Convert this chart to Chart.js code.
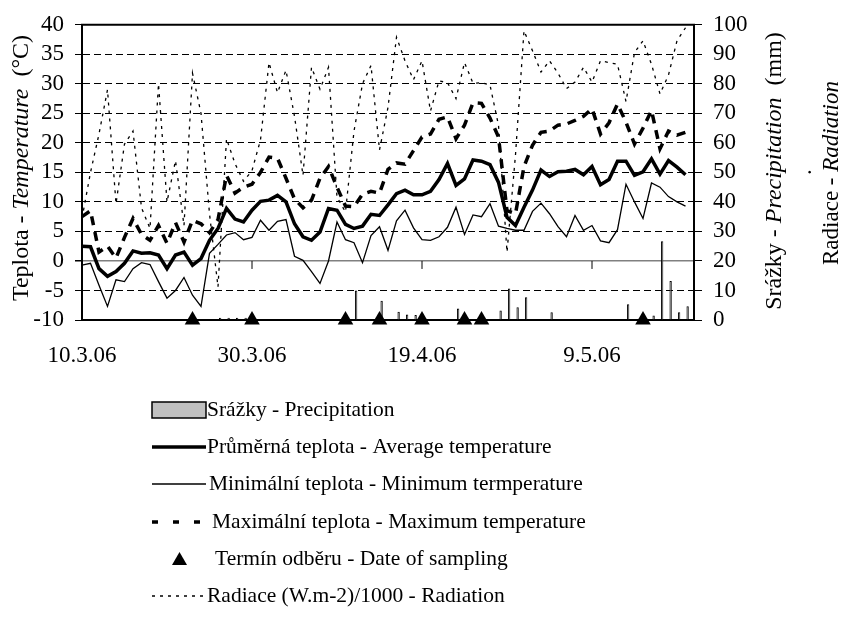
<!DOCTYPE html>
<html>
<head>
<meta charset="utf-8">
<script src="https://cdn.jsdelivr.net/npm/chart.js@4.4.1/dist/chart.umd.min.js"></script>
<style>
  html, body { margin: 0; padding: 0; background: #fff; }
  #wrap { position: relative; width: 844px; height: 617px; }
</style>
</head>
<body>
<div id="wrap"><canvas id="weather"></canvas></div>
<script>
// days 10.3.06 - 21.5.06 (last label only closes the axis)
const dates = [
  "10.3.06", "11.3.06", "12.3.06", "13.3.06", "14.3.06", "15.3.06", "16.3.06", "17.3.06", "18.3.06", "19.3.06",
  "20.3.06", "21.3.06", "22.3.06", "23.3.06", "24.3.06", "25.3.06", "26.3.06", "27.3.06", "28.3.06", "29.3.06",
  "30.3.06", "31.3.06", "1.4.06", "2.4.06", "3.4.06", "4.4.06", "5.4.06", "6.4.06", "7.4.06", "8.4.06",
  "9.4.06", "10.4.06", "11.4.06", "12.4.06", "13.4.06", "14.4.06", "15.4.06", "16.4.06", "17.4.06", "18.4.06",
  "19.4.06", "20.4.06", "21.4.06", "22.4.06", "23.4.06", "24.4.06", "25.4.06", "26.4.06", "27.4.06", "28.4.06",
  "29.4.06", "30.4.06", "1.5.06", "2.5.06", "3.5.06", "4.5.06", "5.5.06", "6.5.06", "7.5.06", "8.5.06",
  "9.5.06", "10.5.06", "11.5.06", "12.5.06", "13.5.06", "14.5.06", "15.5.06", "16.5.06", "17.5.06", "18.5.06",
  "19.5.06", "20.5.06", "21.5.06"
];
const tickDates = ["10.3.06", "30.3.06", "19.4.06", "9.5.06"];
const samplingDates = ["23.3.06", "30.3.06", "10.4.06", "14.4.06", "19.4.06", "24.4.06", "26.4.06", "15.5.06"];

// °C
const avgTemp = [
  2.5, 2.4, -1.3, -2.6, -1.8, -0.4, 1.7, 1.3, 1.4, 1.0,
  -1.3, 1.0, 1.5, -0.7, 0.4, 3.5, 5.5, 8.9, 7.1, 6.6,
  8.6, 10.1, 10.3, 11.1, 10.0, 6.3, 4.1, 3.5, 4.9, 8.9,
  8.6, 6.2, 5.5, 5.9, 7.9, 7.7, 9.5, 11.4, 12.0, 11.2,
  11.2, 11.8, 13.8, 16.5, 12.8, 13.9, 17.1, 16.9, 16.3, 13.3,
  7.4, 6.0, 9.1, 12.0, 15.4, 14.3, 15.1, 15.2, 15.5, 14.6,
  16.0, 12.9, 13.8, 16.9, 16.9, 14.5, 15.1, 17.3, 14.7, 17.0,
  15.9, 14.6
];
const minTemp = [
  -0.7, -0.4, -4.1, -7.7, -3.2, -3.5, -1.3, -0.3, -0.6, -3.5,
  -6.3, -5.0, -2.8, -5.8, -7.7, 1.3, 2.8, 4.4, 4.8, 3.6,
  4.0, 6.9, 5.2, 6.7, 7.0, 0.8, 0.1, -1.8, -3.8, 0.0,
  6.6, 3.6, 3.1, -0.3, 4.3, 5.8, 1.8, 6.8, 8.6, 5.6,
  3.6, 3.5, 4.1, 5.7, 9.1, 4.5, 7.8, 7.5, 9.7, 5.9,
  5.5, 5.2, 5.2, 8.4, 9.8, 8.0, 5.8, 4.1, 7.7, 5.2,
  6.0, 3.4, 3.1, 5.3, 13.0, 10.0, 7.2, 13.2, 12.5, 10.9,
  10.0, 9.3
];
const maxTemp = [
  7.5, 8.5, 1.5, 2.5, 0.5, 4.0, 7.2, 4.5, 3.5, 6.0,
  3.0, 6.5, 3.2, 6.9, 6.3, 4.8, 7.0, 14.5, 11.5, 12.5,
  13.0, 15.0, 17.6, 17.4, 14.0, 10.5, 9.0, 10.3, 14.0, 16.0,
  12.5, 9.3, 9.2, 11.3, 11.8, 11.5, 15.5, 16.6, 16.4, 18.7,
  21.0, 21.5, 24.0, 24.4, 20.7, 23.0, 26.8, 26.7, 24.2, 21.0,
  8.5, 8.0, 16.0, 19.6, 21.8, 22.0, 23.0, 23.2, 23.8, 24.5,
  25.8, 21.5, 23.4, 26.6, 23.5, 19.8, 22.5, 25.5, 19.0, 22.0,
  21.3, 21.8
];
// (W.m-2)/1000, right axis
const radiation = [
  34.4, 50.0, 63.0, 78.0, 39.4, 59.6, 64.0, 38.0, 31.0, 80.0,
  40.0, 54.0, 32.0, 83.6, 70.0, 36.0, 11.2, 61.4, 53.0, 47.0,
  50.6, 61.0, 87.2, 77.0, 84.6, 69.0, 49.0, 85.6, 78.2, 85.6,
  41.6, 36.6, 64.0, 80.0, 86.2, 57.6, 72.0, 95.8, 87.8, 81.4,
  87.8, 70.8, 81.0, 80.4, 75.0, 87.2, 80.2, 80.4, 79.6, 66.0,
  23.0, 56.0, 98.0, 91.2, 84.0, 87.8, 83.6, 78.4, 80.6, 85.6,
  80.6, 87.8, 87.2, 86.6, 74.0, 90.6, 94.6, 86.6, 76.6, 83.0,
  94.6, 99.0
];
// mm
const precipitation = [
  0, 0, 0, 0, 0, 0, 0, 0, 0, 0,
  0, 0, 0, 0, 0, 0, 0.8, 0.8, 0.8, 0.8,
  0, 0, 0, 0, 0, 0, 0, 0, 0, 0,
  0, 0, 10.0, 0, 0, 6.5, 0, 2.8, 1.9, 1.7,
  0, 0, 0, 0, 3.9, 0, 0, 0, 0, 3.2,
  10.7, 4.3, 7.7, 0, 0, 2.6, 0, 0, 0, 0,
  0, 0, 0, 0, 5.3, 0, 0, 1.5, 26.7, 13.2,
  2.6, 4.7
];

const serif = '"Liberation Serif", "Times New Roman", Tinos, "DejaVu Serif", serif';
Chart.defaults.font.family = serif;
Chart.defaults.color = "#000";

const sampling = dates.map((d) => (samplingDates.includes(d) ? -10 : null));

function drawRotated(ctx, parts, cx, cy, size) {
  ctx.save();
  ctx.translate(cx, cy);
  ctx.rotate(-Math.PI / 2);
  ctx.textBaseline = "middle";
  ctx.textAlign = "left";
  ctx.fillStyle = "#000";
  let total = 0;
  const widths = parts.map((p) => {
    ctx.font = (p.italic ? "italic " : "") + size + "px " + serif;
    const w = ctx.measureText(p.text).width;
    total += w;
    return w;
  });
  let x = -total / 2;
  parts.forEach((p, i) => {
    ctx.font = (p.italic ? "italic " : "") + size + "px " + serif;
    ctx.fillText(p.text, x, 0);
    x += widths[i];
  });
  ctx.restore();
}

const decorations = {
  id: "decorations",
  beforeDatasetsDraw(chart) {
    const { ctx, scales } = chart;
    const y0 = scales.y.getPixelForValue(0);
    ctx.save();
    ctx.strokeStyle = "#000";
    ctx.lineWidth = 1;
    tickDates.forEach((d) => {
      const x = scales.x.getPixelForValue(dates.indexOf(d));
      ctx.beginPath();
      ctx.moveTo(x, y0);
      ctx.lineTo(x, y0 + 8);
      ctx.stroke();
    });
    ctx.restore();
  },
  afterDraw(chart) {
    const { ctx, chartArea: a } = chart;
    ctx.save();
    ctx.strokeStyle = "#000";
    ctx.lineWidth = 2;
    ctx.beginPath();
    ctx.moveTo(a.left - 1, a.top);
    ctx.lineTo(a.right + 1, a.top);
    ctx.stroke();
    ctx.restore();

    // axis titles
    drawRotated(ctx, [
      { text: "Teplota - " }, { text: "Temperature", italic: true }, { text: "  (°C)" }
    ], 22, 168, 24);
    drawRotated(ctx, [
      { text: "Srážky - " }, { text: "Precipitation", italic: true }, { text: "  (mm)" }
    ], 775, 171, 24);
    drawRotated(ctx, [
      { text: "Radiace - " }, { text: "Radiation", italic: true }
    ], 832, 173, 23);
    drawRotated(ctx, [{ text: "." }], 805, 172, 23);

    // legend, one item per row
    const ds = chart.data.datasets;
    const rows = [
      { i: 0, y: 410, tx: 207 },
      { i: 1, y: 447, tx: 207 },
      { i: 2, y: 484, tx: 209 },
      { i: 3, y: 522, tx: 212 },
      { i: 5, y: 559, tx: 215 },
      { i: 4, y: 596, tx: 207 }
    ];
    const x1 = 152, x2 = 206;
    ctx.save();
    rows.forEach((r) => {
      const d = ds[r.i];
      ctx.save();
      if (d.type === "bar") {
        ctx.fillStyle = d.backgroundColor;
        ctx.fillRect(x1, r.y - 8, x2 - x1, 16);
        ctx.strokeStyle = "#000";
        ctx.lineWidth = 1.5;
        ctx.strokeRect(x1, r.y - 8, x2 - x1, 16);
      } else if (d.showLine === false) {
        ctx.fillStyle = "#000";
        ctx.beginPath();
        ctx.moveTo(179.5, r.y - 7);
        ctx.lineTo(187, r.y + 6);
        ctx.lineTo(172, r.y + 6);
        ctx.closePath();
        ctx.fill();
      } else {
        ctx.strokeStyle = "#000";
        ctx.lineWidth = d.borderWidth;
        if (d.label.startsWith("Max")) ctx.setLineDash([6, 15]);
        else if (d.label.startsWith("Radiace")) ctx.setLineDash([3, 5]);
        ctx.beginPath();
        ctx.moveTo(x1, r.y);
        ctx.lineTo(x2, r.y);
        ctx.stroke();
      }
      ctx.restore();
      ctx.fillStyle = "#000";
      ctx.font = "21.5px " + serif;
      ctx.textBaseline = "middle";
      ctx.fillText(d.label, r.tx, r.y);
    });
    ctx.restore();
  }
};

new Chart(document.getElementById("weather"), {
  data: {
    datasets: [
      {
        type: "bar",
        label: "Srážky - Precipitation",
        data: precipitation,
        xAxisID: "xBars",
        yAxisID: "yR",
        backgroundColor: "#c0c0c0",
        borderColor: "#000",
        borderWidth: 1,
        barPercentage: 0.55,
        categoryPercentage: 1,
        order: 6
      },
      {
        type: "line",
        label: "Průměrná teplota - Average temperature",
        data: avgTemp,
        xAxisID: "x",
        yAxisID: "y",
        borderColor: "#000",
        borderWidth: 3.5,
        pointRadius: 0,
        order: 2
      },
      {
        type: "line",
        label: "Minimální teplota - Minimum termperature",
        data: minTemp,
        xAxisID: "x",
        yAxisID: "y",
        borderColor: "#000",
        borderWidth: 1.3,
        pointRadius: 0,
        order: 3
      },
      {
        type: "line",
        label: "Maximální teplota - Maximum temperature",
        data: maxTemp,
        xAxisID: "x",
        yAxisID: "y",
        borderColor: "#000",
        borderWidth: 3.5,
        borderDash: [9, 7],
        pointRadius: 0,
        order: 4
      },
      {
        type: "line",
        label: "Radiace (W.m-2)/1000 - Radiation",
        data: radiation,
        xAxisID: "x",
        yAxisID: "yR",
        borderColor: "#000",
        borderWidth: 1.3,
        borderDash: [3, 5],
        pointRadius: 0,
        order: 5
      },
      {
        type: "line",
        label: "Termín odběru - Date of sampling",
        data: sampling,
        xAxisID: "x",
        yAxisID: "y",
        showLine: false,
        pointStyle: "triangle",
        pointRadius: 9,
        pointBorderWidth: 0,
        pointBackgroundColor: "#000",
        pointBorderColor: "#000",
        clip: false,
        order: 1
      }
    ]
  },
  options: {
    responsive: true,
    maintainAspectRatio: false,
    animation: false,
    layout: { padding: { top: 24, bottom: 0, left: 0, right: 0 } },
    plugins: {
      legend: { display: false },
      tooltip: { enabled: false }
    },
    scales: {
      x: {
        type: "category",
        labels: dates,
        offset: false,
        position: "bottom",
        grid: { display: false, drawTicks: false },
        border: { display: true, color: "#000", width: 2 },
        ticks: {
          autoSkip: false,
          maxRotation: 0,
          padding: 22,
          font: { size: 23 },
          callback: (v, i) => (tickDates.includes(dates[i]) ? dates[i] : "")
        },
        afterFit: (s) => { s.height = 297; }
      },
      xBars: {
        type: "category",
        labels: dates.slice(0, precipitation.length),
        offset: true,
        display: false
      },
      y: {
        position: "left",
        min: -10,
        max: 40,
        ticks: { stepSize: 5, autoSkip: false, padding: 11, font: { size: 23 } },
        grid: {
          color: (c) => (c.tick && c.tick.value === 0 ? "#808080" : "#000"),
          lineWidth: (c) => (c.tick && c.tick.value === 0 ? 1.5 : 1),
          tickLength: 7,
          tickColor: "#000"
        },
        border: {
          display: true,
          color: "#000",
          width: 2,
          dash: (c) => (c.type === "tick" && c.tick && c.tick.value !== 0 ? [7, 4] : [])
        },
        afterFit: (s) => { s.width = 82; }
      },
      yR: {
        position: "right",
        min: 0,
        max: 100,
        ticks: { stepSize: 10, autoSkip: false, padding: 11, font: { size: 23 } },
        grid: { drawOnChartArea: false, tickLength: 8, tickColor: "#000" },
        border: { display: true, color: "#000", width: 2 },
        afterFit: (s) => { s.width = 150; }
      }
    }
  },
  plugins: [decorations]
});
</script>
</body>
</html>
